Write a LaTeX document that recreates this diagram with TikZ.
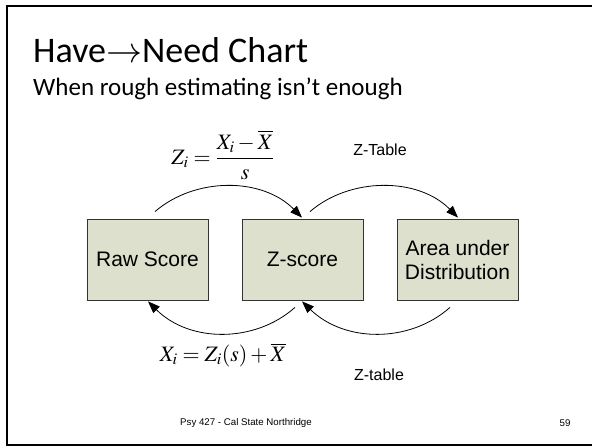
\documentclass[tikz,border=0pt]{standalone}
\usepackage{mathptmx}
\usepackage[no-math]{fontspec}
\setmainfont{Carlito}
\newfontfamily\arialf{Liberation Sans}
\usetikzlibrary{arrows.meta}
\definecolor{boxfill}{HTML}{DDE0CC}
\begin{document}
\begin{tikzpicture}[x=1pt,y=1pt,
  box/.style={draw=black!80,fill=boxfill,line width=0.8pt,minimum width=121pt,minimum height=81pt,inner sep=0pt,align=center,font=\arialf\fontsize{21}{25}\selectfont},
  arc/.style={line width=0.8pt,-{Triangle[length=12pt,width=9pt]}},
  lbl/.style={font=\arialf\fontsize{16}{19}\selectfont,inner sep=0pt},
  frm/.style={font=\fontsize{22}{26}\selectfont,inner sep=0pt}]
\useasboundingbox (0,0) rectangle (592,447);
\fill[white] (0,0) rectangle (592,447);
\draw[line width=2pt] (600,441) -- (7,441) -- (7,2) -- (600,2);
\node[anchor=base west,inner sep=0pt,font=\fontsize{36}{42}\selectfont] (title) at (33,384) {Have$\rightarrow$Need Chart};
\node[anchor=base west,inner sep=0pt,font=\fontsize{25}{30}\selectfont] (sub) at (33,351) {When rough estimating isn’t enough};
\node[box] (raw) at (147.5,187.5) {Raw Score};
\node[box] (z) at (302.5,187.5) {Z-score};
\node[box] (area) at (457.5,187.5) {Area under\\[-1pt]Distribution};
\draw[arc] ([xshift=7.5pt,yshift=7pt]raw.north) .. controls (195,270) and (262,270) .. ([xshift=-0.5pt,yshift=1pt]z.north);
\draw[arc] ([xshift=7.5pt,yshift=7pt]z.north) .. controls (350,270) and (418,270) .. ([xshift=0.5pt,yshift=1pt]area.north);
\draw[arc] ([xshift=-7.5pt,yshift=-7pt]z.south) .. controls (255,104) and (190,104) .. ([xshift=0.5pt,yshift=-1pt]raw.south);
\draw[arc] ([xshift=-7.5pt,yshift=-7pt]area.south) .. controls (410,104) and (345,104) .. ([xshift=-0.5pt,yshift=-1pt]z.south);
\node[frm] (f1) at (223,292) {$Z_i=\displaystyle\frac{X_i-\overline{X}}{s}$};
\node[lbl] (zt1) at (380,297) {Z-Table};
\node[frm] (f2) at (223,92) {$X_i=Z_i(s)+\overline{X}$};
\node[lbl] (zt2) at (379,72) {Z-table};
\node[inner sep=0pt,font=\arialf\fontsize{9.7}{11}\selectfont] (foot) at (246,24) {Psy 427 - Cal State Northridge};
\node[inner sep=0pt,font=\arialf\fontsize{9.7}{11}\selectfont] (num) at (565,24) {59};
\end{tikzpicture}
\end{document}
